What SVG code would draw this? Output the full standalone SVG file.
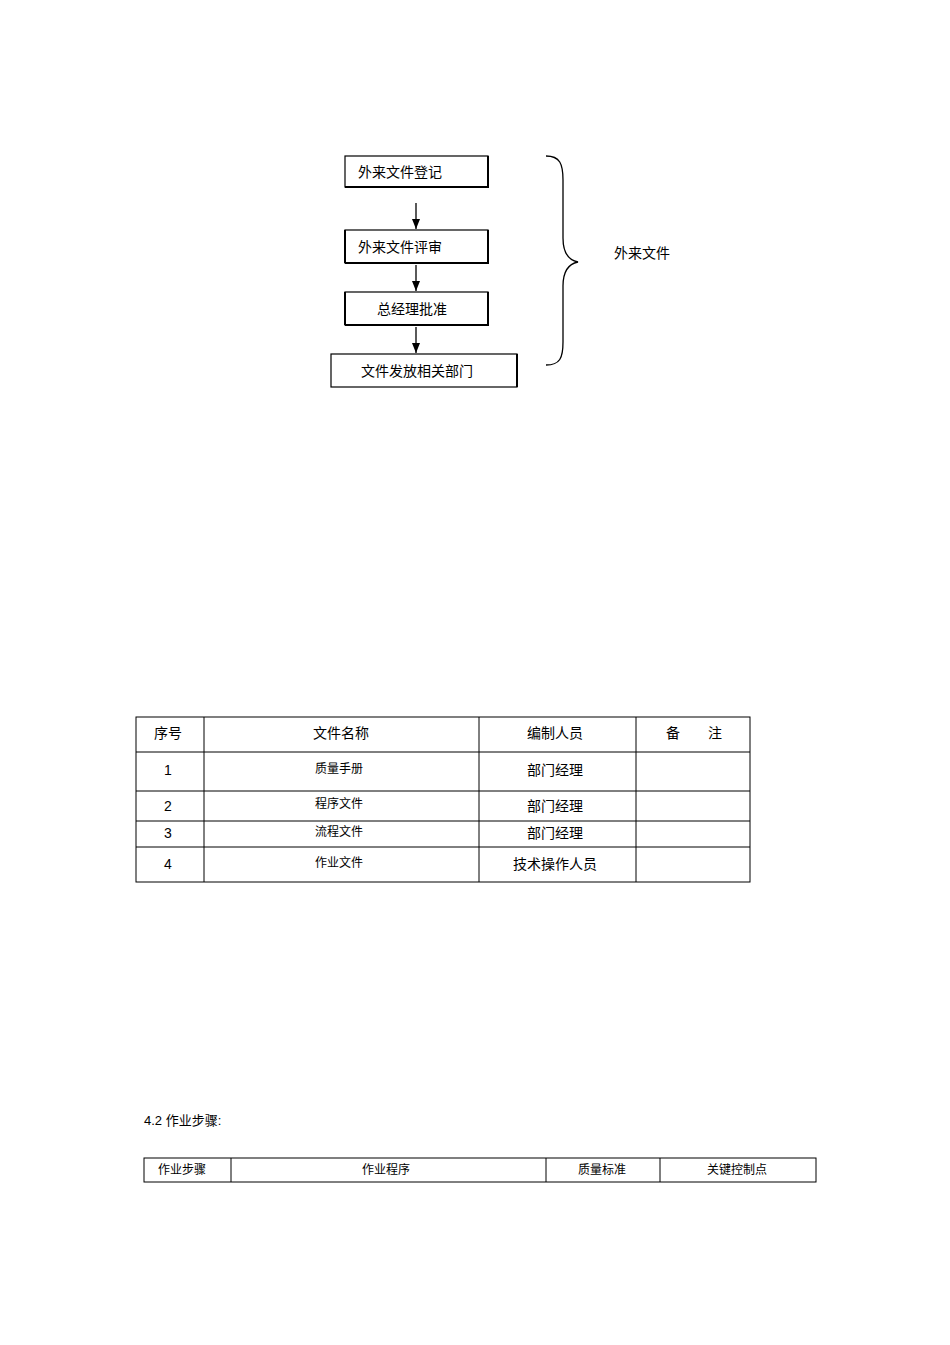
<svg xmlns="http://www.w3.org/2000/svg" width="950" height="1345" viewBox="0 0 950 1345">
<defs>
<style>
text{font-family:"Liberation Sans","Noto Sans CJK SC",sans-serif;fill:#000}
.b{fill:#fff;stroke:#000;stroke-width:1.2}
.s{stroke:#000;stroke-width:2;fill:none}
.t{fill:none;stroke:#000;stroke-width:1}
.c{stroke:#000;stroke-width:1.3;fill:none}
</style>
<marker id="a" markerWidth="8" markerHeight="10" refX="4" refY="10" orient="auto" markerUnits="userSpaceOnUse"><path d="M0,0 L8,0 L4,10 Z" fill="#000" transform="rotate(-90 4 5) translate(0 0)"/></marker>
<marker id="ah" markerWidth="10" markerHeight="10" refX="10" refY="5" orient="auto" markerUnits="userSpaceOnUse"><path d="M0,1 L10,5 L0,9 Z" fill="#000"/></marker>
</defs>
<rect width="950" height="1345" fill="#fff"/>
<g id="n1"><rect class="b" x="345" y="156" width="143" height="31"/><path class="s" d="M488,156 V187 H345"/><text x="358" y="177" font-size="14">外来文件登记</text></g>
<g id="n2"><rect class="b" x="345" y="230" width="143" height="33"/><path class="s" d="M488,230 V263 H345 M345,230 V263"/><text x="358" y="252" font-size="14">外来文件评审</text></g>
<g id="n3"><rect class="b" x="345" y="292" width="143" height="33"/><path class="s" d="M488,292 V325 H345 M345,292 V325"/><text x="412" y="314" font-size="14" text-anchor="middle">总经理批准</text></g>
<g id="n4"><rect class="b" x="331" y="354" width="186" height="33"/><path class="s" d="M517,354 V387"/><text x="417" y="376" font-size="14" text-anchor="middle">文件发放相关部门</text></g>
<g id="connectors">
<line class="c" x1="416" y1="203" x2="416" y2="229" marker-end="url(#ah)"/>
<line class="c" x1="416" y1="265" x2="416" y2="291" marker-end="url(#ah)"/>
<line class="c" x1="416" y1="327" x2="416" y2="353" marker-end="url(#ah)"/>
</g>
<g id="brace"><path class="c" d="M546,156 C560,156 563,164 563,180 V238 C563,252 568,260 578,262 C568,264 563,272 563,286 V342 C563,358 560,365 546,365"/></g>
<text x="614" y="258" font-size="14">外来文件</text>
<g id="table1">
<rect class="t" x="136" y="717" width="614" height="165"/>
<path class="t" d="M204,717V882M479,717V882M636,717V882M136,752H750M136,791H750M136,821H750M136,847H750"/>
<g font-size="14" text-anchor="middle">
<text x="168" y="738">序号</text><text x="341" y="738">文件名称</text><text x="555" y="738">编制人员</text><text x="694" y="738">备　　注</text>
<text x="168" y="775">1</text><text x="555" y="775">部门经理</text>
<text x="168" y="811">2</text><text x="555" y="811">部门经理</text>
<text x="168" y="838">3</text><text x="555" y="838">部门经理</text>
<text x="168" y="869">4</text><text x="555" y="869">技术操作人员</text>
</g>
<g font-size="12" text-anchor="middle">
<text x="339" y="773">质量手册</text><text x="339" y="808">程序文件</text><text x="339" y="836">流程文件</text><text x="339" y="867">作业文件</text>
</g>
</g>
<text x="144" y="1125" font-size="13">4.2  作业步骤:</text>
<g id="table2">
<rect class="t" x="144" y="1158" width="672" height="24"/>
<path class="t" d="M231,1158V1182M546,1158V1182M660,1158V1182"/>
<g font-size="12" text-anchor="middle">
<text x="182" y="1174">作业步骤</text><text x="386" y="1174">作业程序</text><text x="602" y="1174">质量标准</text><text x="737" y="1174">关键控制点</text>
</g>
</g>
</svg>
